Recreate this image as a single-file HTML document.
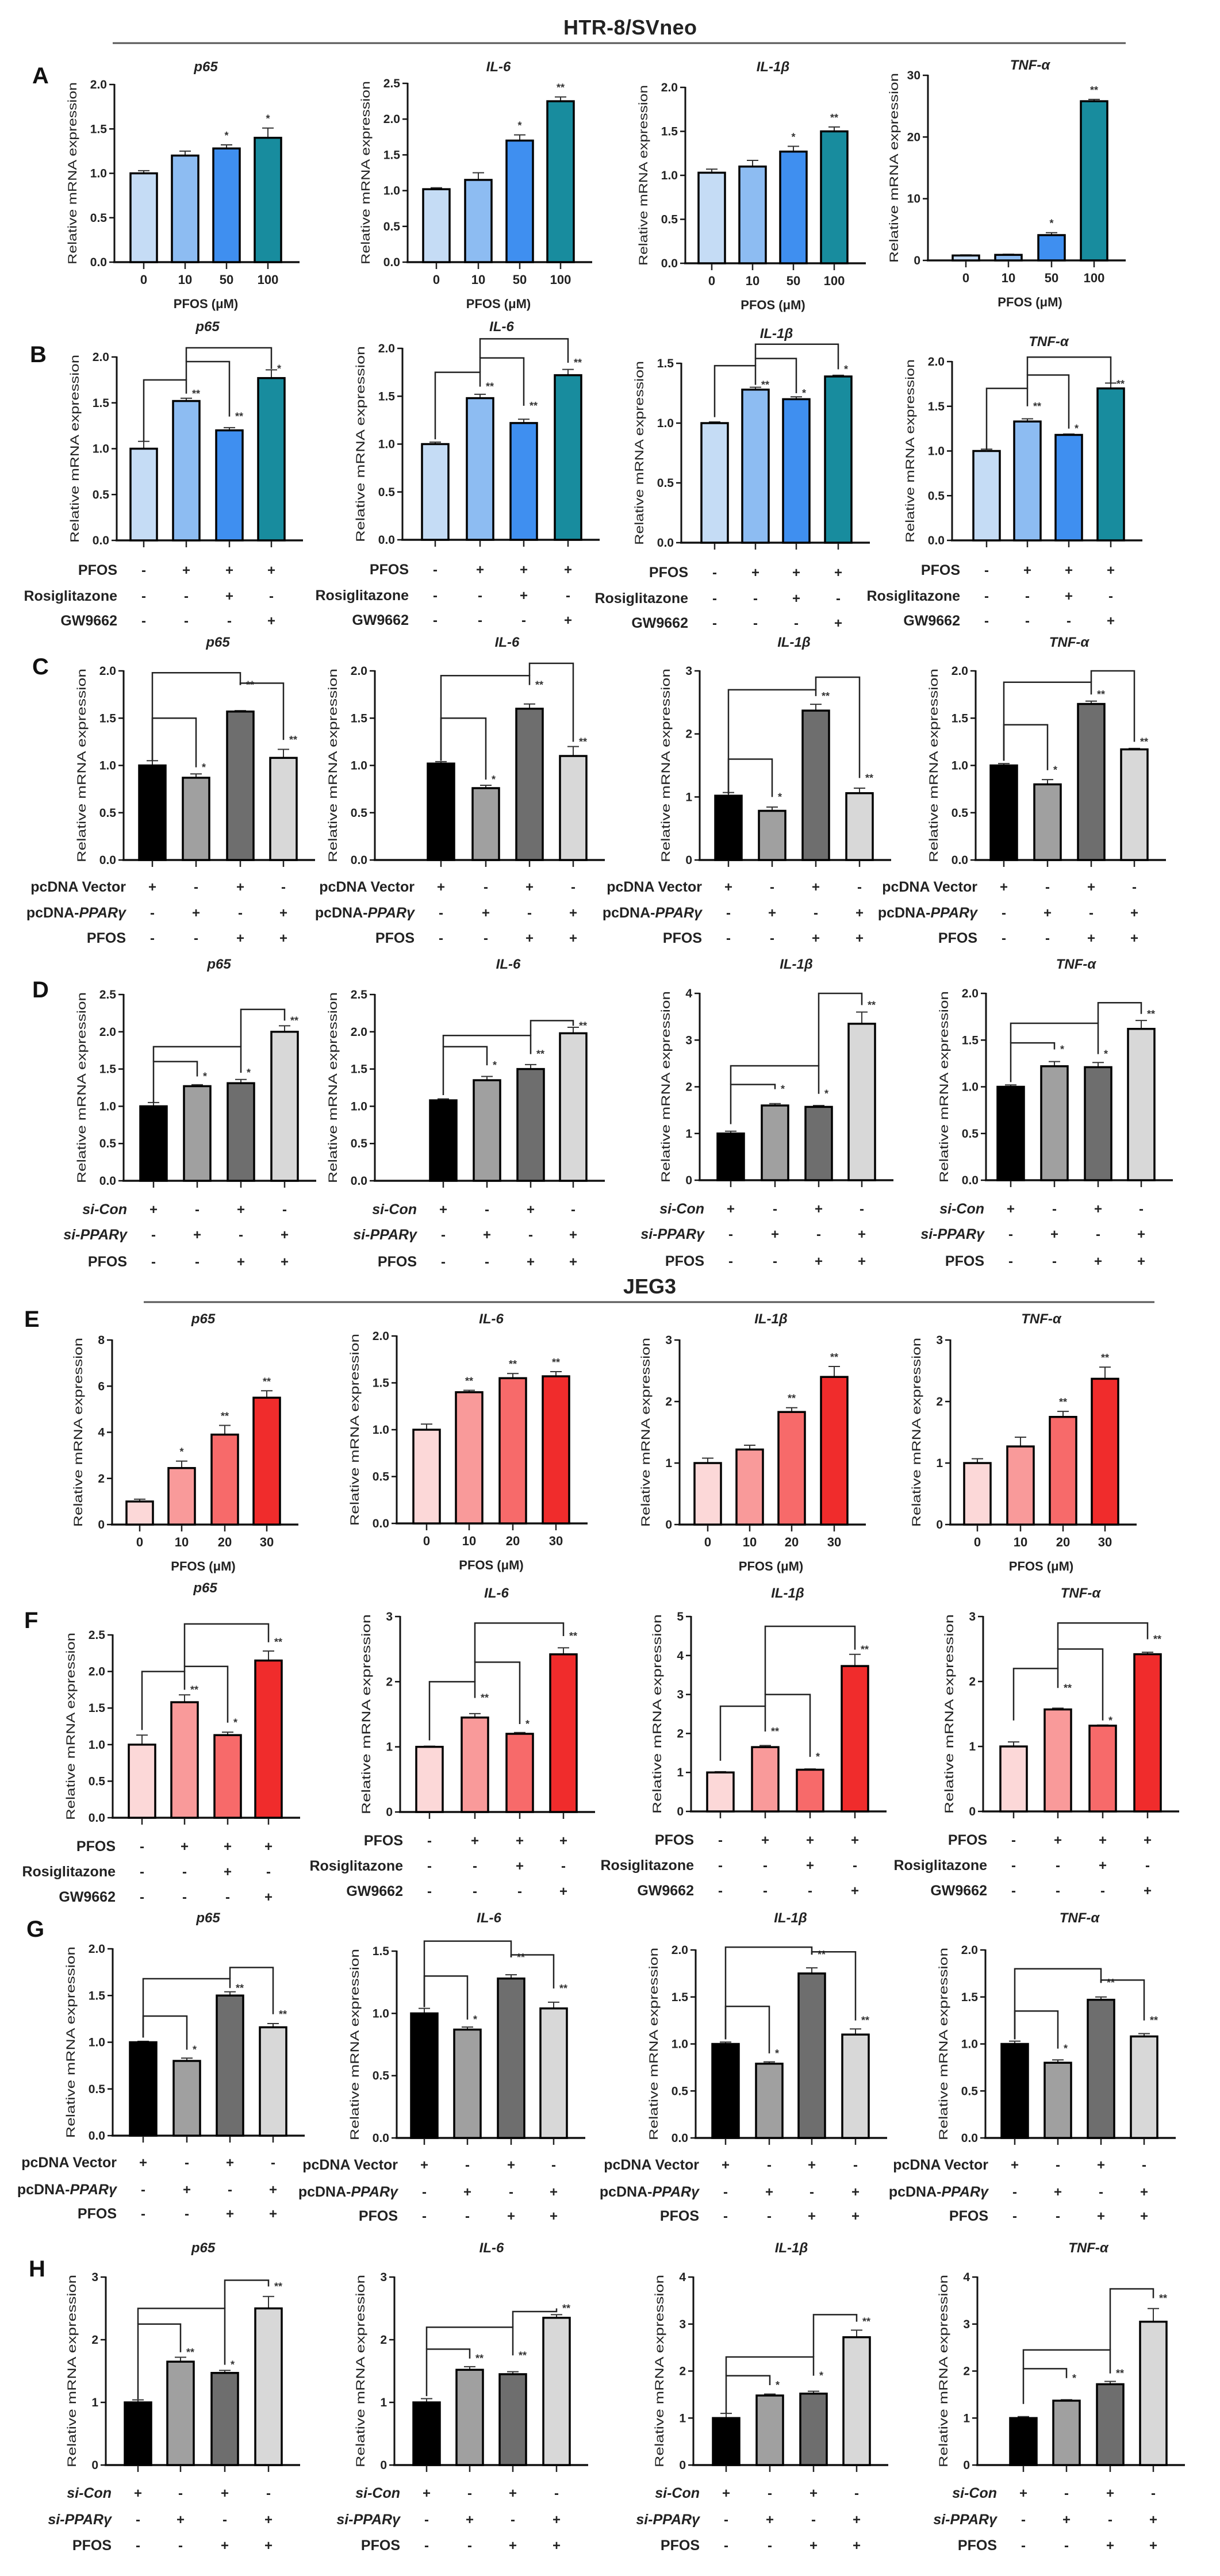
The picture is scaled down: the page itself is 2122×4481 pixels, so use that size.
<!DOCTYPE html>
<html><head><meta charset="utf-8"><style>
html,body{margin:0;padding:0;background:#fff}
svg{display:block}
text{font-family:"Liberation Sans",Arial,sans-serif}
</style></head><body>
<svg id="s" width="2122" height="4481" viewBox="0 0 2122 4481" xmlns="http://www.w3.org/2000/svg">
<rect width="2122" height="4481" fill="#fff"/>
<text x="1096" y="60" font-size="36" font-weight="bold" text-anchor="middle" textLength="232" fill="#222">HTR-8/SVneo</text>
<line x1="196" y1="75" x2="1958" y2="75" stroke="#555" stroke-width="3"/>
<text x="1130" y="2250" font-size="36" font-weight="bold" text-anchor="middle" fill="#222">JEG3</text>
<line x1="250" y1="2265" x2="2008" y2="2265" stroke="#555" stroke-width="3"/>
<g font-size="40" font-weight="bold" fill="#111">
<text x="56" y="145">A</text><text x="52" y="630">B</text><text x="56" y="1173">C</text><text x="56" y="1735">D</text>
<text x="42" y="2308">E</text><text x="42" y="2832">F</text><text x="46" y="3369">G</text><text x="50" y="3960">H</text>
</g>
</svg>
<script>
var S=document.getElementById('s'),out='';
var BLUE=['#c5dcf5','#8dbcf2','#3f8ff0','#188c9e'],RED=['#fcd8d8','#f99a9a','#f76a6a','#f02c2c'],GRAY=['#000','#a0a0a0','#6e6e6e','#d8d8d8'];
var LB={B:[['PFOS','-+++'],['Rosiglitazone','--+-'],['GW9662','---+']],
C:[['pcDNA Vector','+-+-'],['pcDNA-<tspan font-style="italic">PPARγ</tspan>','-+-+'],['PFOS','--++']],
D:[['<tspan font-style="italic">si-Con</tspan>','+-+-'],['<tspan font-style="italic">si-PPARγ</tspan>','-+-+'],['PFOS','--++']]};
function P(o){
 var x=o.x,t=o.t,b=o.b,bars=o.bars,max=o.max,step=o.step,dec=o.dec;
 function Y(v){return b-(v/max)*(b-t);}
 var s='';
 var bw=46;
 s+='<line x1="'+x+'" y1="'+(t-1)+'" x2="'+x+'" y2="'+b+'" stroke="#111" stroke-width="3"/>';
 var xe=bars[3]+bw/2+32;
 s+='<line x1="'+(x-2)+'" y1="'+b+'" x2="'+xe+'" y2="'+b+'" stroke="#111" stroke-width="3.5"/>';
 for(var v=0;v<=max+1e-9;v+=step){var yy=Y(v);
  s+='<line x1="'+(x-9)+'" y1="'+yy+'" x2="'+x+'" y2="'+yy+'" stroke="#111" stroke-width="2.5"/>';
  s+='<text x="'+(x-13)+'" y="'+(yy+7)+'" font-size="21" font-weight="bold" text-anchor="end" fill="#222">'+v.toFixed(dec)+'</text>';}
 var mid=(t+b)/2,lx=x-(dec?66:52);
 s+='<text transform="translate('+lx+','+mid+') rotate(-90)" font-size="21" text-anchor="middle" fill="#222" textLength="'+(b-t+8)+'" lengthAdjust="spacingAndGlyphs">Relative mRNA expression</text>';
 var cols=o.c;
 for(var i=0;i<4;i++){var cx=bars[i],vy=Y(o.v[i]),ey=Y(o.v[i]+o.e[i]);
  s+='<line x1="'+cx+'" y1="'+vy+'" x2="'+cx+'" y2="'+ey+'" stroke="#333" stroke-width="2"/><line x1="'+(cx-10)+'" y1="'+ey+'" x2="'+(cx+10)+'" y2="'+ey+'" stroke="#333" stroke-width="2"/>';
  s+='<rect x="'+(cx-bw/2)+'" y="'+vy+'" width="'+bw+'" height="'+(b-vy)+'" fill="'+cols[i]+'" stroke="#000" stroke-width="3.5"/>';
  s+='<line x1="'+cx+'" y1="'+(b+2)+'" x2="'+cx+'" y2="'+(b+12)+'" stroke="#222" stroke-width="2.5"/>';
  if(o.sig&&o.sig[i])s+='<text x="'+cx+'" y="'+(ey-10)+'" font-size="18" font-weight="bold" text-anchor="middle" fill="#333">'+o.sig[i]+'</text>';}
 if(o.br)o.br.forEach(function(r){var x1=bars[r[0]],x2=bars[r[1]],yl=Y(r[2]);
  s+='<polyline points="'+x1+','+Y(r[4])+' '+x1+','+yl+' '+x2+','+yl+' '+x2+','+Y(r[5])+'" fill="none" stroke="#222" stroke-width="2.5"/>';
  s+='<text x="'+(x2+10)+'" y="'+(Y(r[5])+6)+'" font-size="18" font-weight="bold" fill="#333">'+r[3]+'</text>';});
 var tx=(bars[0]+bars[3])/2;
 s+='<text x="'+tx+'" y="'+(o.ty+9)+'" font-size="24" font-weight="bold" font-style="italic" text-anchor="middle" fill="#222">'+o.title+'</text>';
 if(o.type=='A'){for(i=0;i<4;i++)s+='<text x="'+bars[i]+'" y="'+(b+38)+'" font-size="22" font-weight="bold" text-anchor="middle" fill="#222">'+o.tl[i]+'</text>';
  s+='<text x="'+tx+'" y="'+(b+80)+'" font-size="22" font-weight="bold" text-anchor="middle" fill="#222">PFOS (μM)</text>';}
 else{var L=LB[o.type];for(var k=0;k<3;k++){var ly=b+o.ly[k]+8;
  s+='<text x="'+(bars[0]-46)+'" y="'+ly+'" font-size="25" font-weight="bold" text-anchor="end" fill="#222">'+L[k][0]+'</text>';
  for(i=0;i<4;i++)s+='<text x="'+bars[i]+'" y="'+ly+'" font-size="24" font-weight="bold" text-anchor="middle" fill="#222">'+L[k][1][i]+'</text>';}}
 out+=s;}
var T=['p65','IL-6','IL-1β','TNF-α'];
function row(type,cols,ty,ly,tl,panels){panels.forEach(function(p,i){p.type=type;p.c=cols;p.ty=p.ty||ty;p.ly=ly;p.tl=tl;p.title=T[i];P(p);});}
row('A',BLUE,115,null,['0','10','50','100'],[
{x:199,t:147,b:456,bars:[250,322,394,466],max:2,step:.5,dec:1,v:[1,1.2,1.28,1.4],e:[.03,.05,.04,.11],sig:['','','*','*']},
{x:709,t:145,b:456,bars:[759,832,904,975],max:2.5,step:.5,dec:1,v:[1.02,1.15,1.7,2.25],e:[.02,.1,.08,.06],sig:['','','*','**']},
{x:1192,t:152,b:458,bars:[1238,1309,1380,1451],max:2,step:.5,dec:1,v:[1.03,1.1,1.27,1.5],e:[.04,.07,.06,.05],sig:['','','*','**']},
{x:1614,t:131,b:453,bars:[1680,1754,1829,1903],max:30,step:10,dec:0,v:[.8,.9,4.1,25.8],e:[.1,.1,.4,.3],sig:['','','*','**'],ty:112}]);
row('B',BLUE,567,[52,97,140],null,[
{x:203,t:621,b:940,bars:[250,324,399,472],max:2,step:.5,dec:1,v:[1,1.52,1.2,1.77],e:[.08,.03,.03,.09],br:[[0,1,1.75,'**',1.08,1.6],[1,2,1.95,'**',1.75,1.35],[1,3,2.1,'*',1.95,1.87]]},
{x:700,t:606,b:939,bars:[757,835,911,988],max:2,step:.5,dec:1,v:[1,1.48,1.22,1.72],e:[.02,.04,.04,.06],br:[[0,1,1.75,'**',1.05,1.6],[1,2,1.9,'**',1.75,1.4],[1,3,2.1,'**',1.9,1.85]]},
{x:1185,t:632,b:944,bars:[1243,1314,1385,1458],max:1.5,step:.5,dec:1,v:[1,1.28,1.2,1.39],e:[.01,.02,.02,.01],br:[[0,1,1.48,'**',1.05,1.32],[1,2,1.54,'*',1.48,1.25],[1,3,1.66,'*',1.54,1.45]],ty:579},
{x:1656,t:629,b:940,bars:[1716,1787,1859,1932],max:2,step:.5,dec:1,v:[1,1.33,1.18,1.7],e:[.02,.03,.01,.06],br:[[0,1,1.7,'**',1.0,1.5],[1,2,1.85,'*',1.7,1.25],[1,3,2.05,'**',1.85,1.75]],ty:593}]);
row('C',GRAY,1116,[47,92,136],null,[
{x:215,t:1167,b:1496,bars:[265,341,418,493],max:2,step:.5,dec:1,v:[1,.87,1.57,1.08],e:[.05,.04,.01,.09],br:[[0,1,1.5,'*',1.05,.98],[0,2,1.98,'**',1.05,1.85],[2,3,1.87,'**',1.85,1.27]]},
{x:652,t:1167,b:1496,bars:[767,845,921,997],max:2,step:.5,dec:1,v:[1.02,.76,1.6,1.1],e:[.02,.03,.05,.1],br:[[0,1,1.5,'*',1.05,.85],[0,2,1.95,'**',1.05,1.85],[2,3,2.08,'**',1.95,1.25]]},
{x:1217,t:1167,b:1496,bars:[1267,1343,1419,1495],max:3,step:1,dec:0,v:[1.02,.78,2.37,1.06],e:[.05,.06,.1,.08],br:[[0,1,1.6,'*',1.05,1.0],[0,2,2.7,'**',1.05,2.6],[2,3,2.9,'**',2.7,1.3]]},
{x:1697,t:1167,b:1496,bars:[1746,1822,1898,1973],max:2,step:.5,dec:1,v:[1,.8,1.65,1.17],e:[.02,.05,.03,.01],br:[[0,1,1.43,'*',1.05,.95],[0,2,1.88,'**',1.05,1.75],[2,3,2.0,'**',1.88,1.25]]}]);
row('D',GRAY,1676,[50,94,141],null,[
{x:215,t:1730,b:2054,bars:[267,343,419,495],max:2.5,step:.5,dec:1,v:[1,1.27,1.31,2.0],e:[.05,.02,.05,.08],br:[[0,1,1.6,'*',1.05,1.4],[0,2,1.8,'*',1.6,1.45],[2,3,2.3,'**',1.8,2.15]]},
{x:652,t:1730,b:2054,bars:[771,847,923,997],max:2.5,step:.5,dec:1,v:[1.08,1.35,1.5,1.98],e:[.02,.05,.06,.08],br:[[0,1,1.8,'*',1.15,1.55],[0,2,1.95,'**',1.8,1.7],[2,3,2.15,'**',1.95,2.08]]},
{x:1217,t:1728,b:2053,bars:[1271,1348,1424,1499],max:4,step:1,dec:0,v:[1,1.6,1.57,3.35],e:[.05,.04,.03,.25],br:[[0,1,2.05,'*',1.2,1.95],[0,2,2.45,'*',2.05,1.85],[2,3,4.0,'**',2.45,3.75]]},
{x:1715,t:1728,b:2053,bars:[1758,1834,1910,1985],max:2,step:.5,dec:1,v:[1,1.22,1.21,1.62],e:[.02,.05,.05,.09],br:[[0,1,1.47,'*',1.05,1.4],[0,2,1.68,'*',1.47,1.35],[2,3,1.9,'**',1.68,1.78]]}]);
row('A',RED,2293,null,['0','10','20','30'],[
{x:195,t:2331,b:2652,bars:[243,316,391,464],max:8,step:2,dec:0,v:[1,2.45,3.9,5.5],e:[.1,.3,.4,.3],sig:['','*','**','**']},
{x:690,t:2324,b:2650,bars:[742,816,892,967],max:2,step:.5,dec:1,v:[1,1.4,1.55,1.57],e:[.06,.02,.05,.05],sig:['','**','**','**']},
{x:1182,t:2331,b:2652,bars:[1231,1304,1377,1451],max:3,step:1,dec:0,v:[1,1.22,1.83,2.4],e:[.08,.07,.07,.17],sig:['','','**','**']},
{x:1653,t:2331,b:2652,bars:[1700,1775,1849,1922],max:3,step:1,dec:0,v:[1,1.27,1.75,2.37],e:[.07,.15,.09,.19],sig:['','','**','**']}]);
row('B',RED,2770,[50,94,138],null,[
{x:196,t:2844,b:3162,bars:[247,321,396,467],max:2.5,step:.5,dec:1,v:[1,1.58,1.13,2.15],e:[.13,.1,.04,.13],br:[[0,1,2.0,'**',1.2,1.75],[1,2,2.07,'*',2.0,1.3],[1,3,2.65,'**',2.07,2.4]],ty:2761},
{x:696,t:2812,b:3152,bars:[747,826,904,980],max:3,step:1,dec:0,v:[1,1.45,1.2,2.42],e:[.01,.06,.02,.1],br:[[0,1,2.0,'**',1.1,1.75],[1,2,2.3,'*',2.0,1.35],[1,3,2.9,'**',2.3,2.7]]},
{x:1202,t:2812,b:3151,bars:[1253,1331,1409,1487],max:5,step:1,dec:0,v:[1,1.65,1.07,3.73],e:[.02,.04,.02,.3],br:[[0,1,2.7,'**',1.3,2.05],[1,2,3.0,'*',2.7,1.4],[1,3,4.75,'**',3.0,4.15]]},
{x:1710,t:2812,b:3151,bars:[1763,1840,1918,1996],max:3,step:1,dec:0,v:[1,1.57,1.32,2.42],e:[.07,.02,.01,.03],br:[[0,1,2.2,'**',1.4,1.9],[1,2,2.5,'*',2.2,1.4],[1,3,2.9,'**',2.5,2.65]]}]);
row('C',GRAY,3335,[47,94,136],null,[
{x:196,t:3390,b:3715,bars:[249,325,400,475],max:2,step:.5,dec:1,v:[1,.8,1.5,1.16],e:[.01,.03,.04,.04],br:[[0,1,1.28,'*',1.05,.92],[0,2,1.68,'**',1.05,1.58],[2,3,1.8,'**',1.68,1.3]]},
{x:690,t:3394,b:3719,bars:[738,813,889,963],max:1.5,step:.5,dec:1,v:[1,.87,1.28,1.04],e:[.04,.02,.03,.05],br:[[0,1,1.3,'*',1.05,.95],[0,2,1.58,'**',1.05,1.45],[2,3,1.47,'**',1.45,1.2]]},
{x:1210,t:3392,b:3719,bars:[1262,1338,1412,1488],max:2,step:.5,dec:1,v:[1,.79,1.75,1.1],e:[.02,.02,.06,.06],br:[[0,1,1.4,'*',1.05,.9],[0,2,2.03,'**',1.05,1.95],[2,3,1.98,'**',1.95,1.25]]},
{x:1714,t:3392,b:3719,bars:[1765,1840,1915,1990],max:2,step:.5,dec:1,v:[1,.8,1.47,1.08],e:[.03,.03,.03,.03],br:[[0,1,1.35,'*',1.05,.95],[0,2,1.8,'**',1.05,1.65],[2,3,1.68,'**',1.65,1.25]]}]);
row('D',GRAY,3909,[49,95,140],null,[
{x:184,t:3961,b:4288,bars:[240,314,391,467],max:3,step:1,dec:0,v:[1,1.65,1.47,2.5],e:[.04,.07,.04,.19],br:[[0,1,2.25,'**',1.05,1.8],[0,2,2.5,'*',2.25,1.6],[2,3,2.95,'**',2.5,2.85]]},
{x:686,t:3961,b:4288,bars:[742,817,892,968],max:3,step:1,dec:0,v:[1,1.52,1.45,2.35],e:[.06,.05,.04,.05],br:[[0,1,1.85,'**',1.1,1.7],[0,2,2.2,'**',1.85,1.75],[2,3,2.45,'**',2.2,2.5]]},
{x:1206,t:3961,b:4288,bars:[1263,1339,1415,1490],max:4,step:1,dec:0,v:[1,1.48,1.52,2.72],e:[.1,.03,.05,.15],br:[[0,1,1.9,'*',1.1,1.7],[0,2,2.3,'*',1.9,1.9],[2,3,3.2,'**',2.3,3.05]]},
{x:1700,t:3961,b:4288,bars:[1780,1855,1931,2006],max:4,step:1,dec:0,v:[1,1.37,1.72,3.05],e:[.03,.02,.06,.28],br:[[0,1,2.05,'*',1.3,1.85],[0,2,2.45,'**',2.05,1.95],[2,3,3.75,'**',2.45,3.55]]}]);
S.insertAdjacentHTML('beforeend',out);
</script>
</body></html>
